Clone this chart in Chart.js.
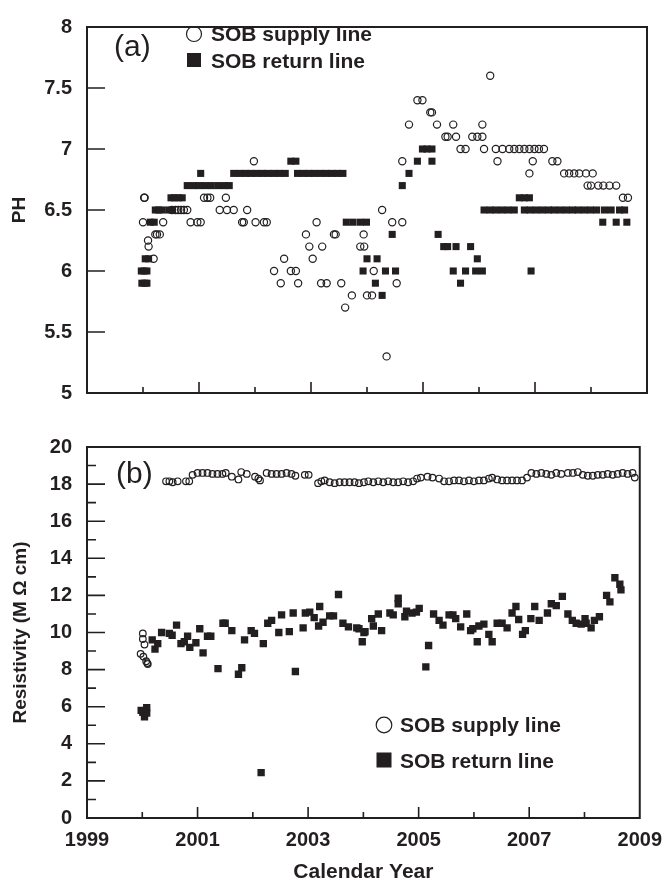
<!DOCTYPE html>
<html lang="en">
<head>
<meta charset="UTF-8" />
<title>SOB supply / return line - PH and resistivity</title>
<script src="https://cdn.jsdelivr.net/npm/chart.js"></script>
<style>
  html, body { margin: 0; background: #fff; overflow: hidden; }
  #top { position: absolute; left: 0; top: 0; width: 672px; height: 420px; }
  #bottom { position: absolute; left: 0; top: 420px; width: 672px; height: 463px; }
</style>
</head>
<body>
<div id="top"><canvas id="phChart"></canvas></div>
<div id="bottom"><canvas id="resChart"></canvas></div>
<script>
// [calendar year, value]
const phSupply = [
  [2000.0, 6.4], [2000.02, 6.6], [2000.03, 6.6], [2000.09, 6.25], [2000.1, 6.2], [2000.19, 6.1],
  [2000.22, 6.3], [2000.25, 6.3], [2000.3, 6.3], [2000.36, 6.4], [2000.52, 6.5], [2000.58, 6.5],
  [2000.63, 6.5], [2000.68, 6.5], [2000.73, 6.5], [2000.79, 6.5], [2000.85, 6.4], [2000.97, 6.4],
  [2001.03, 6.4], [2001.09, 6.6], [2001.15, 6.6], [2001.2, 6.6], [2001.48, 6.6], [2001.37, 6.5],
  [2001.5, 6.5], [2001.62, 6.5], [2001.77, 6.4], [2001.8, 6.4], [2001.86, 6.5], [2001.98, 6.9],
  [2002.01, 6.4], [2002.16, 6.4], [2002.21, 6.4], [2002.34, 6.0], [2002.46, 5.9], [2002.52, 6.1],
  [2002.64, 6.0], [2002.73, 6.0], [2002.77, 5.9], [2002.91, 6.3], [2002.97, 6.2], [2003.03, 6.1],
  [2003.1, 6.4], [2003.2, 6.2], [2003.18, 5.9], [2003.28, 5.9], [2003.41, 6.3], [2003.44, 6.3],
  [2003.54, 5.9], [2003.61, 5.7], [2003.73, 5.8], [2003.94, 6.3], [2003.88, 6.2], [2003.95, 6.2],
  [2004.0, 5.8], [2004.09, 5.8], [2004.12, 6.0], [2004.27, 6.5], [2004.35, 5.3], [2004.45, 6.4],
  [2004.63, 6.4], [2004.53, 5.9], [2004.63, 6.9], [2004.75, 7.2], [2004.9, 7.4], [2004.99, 7.4],
  [2005.13, 7.3], [2005.16, 7.3], [2005.25, 7.2], [2005.54, 7.2], [2005.4, 7.1], [2005.44, 7.1],
  [2005.59, 7.1], [2005.67, 7.0], [2005.76, 7.0], [2005.88, 7.1], [2005.97, 7.1], [2006.06, 7.1],
  [2006.06, 7.2], [2006.09, 7.0], [2006.2, 7.6], [2006.33, 6.9], [2006.3, 7.0], [2006.42, 7.0],
  [2006.54, 7.0], [2006.63, 7.0], [2006.72, 7.0], [2006.81, 7.0], [2006.9, 7.0], [2006.99, 7.0],
  [2007.07, 7.0], [2007.16, 7.0], [2006.96, 6.9], [2006.9, 6.8], [2007.31, 6.9], [2007.4, 6.9],
  [2007.52, 6.8], [2007.61, 6.8], [2007.7, 6.8], [2007.79, 6.8], [2007.91, 6.8], [2008.03, 6.8],
  [2007.94, 6.7], [2008.0, 6.7], [2008.13, 6.7], [2008.22, 6.7], [2008.33, 6.7], [2008.45, 6.7],
  [2008.57, 6.6], [2008.66, 6.6]
];
const phReturn = [
  [1999.97, 6.0], [2000.02, 6.0], [2000.07, 6.0], [1999.98, 5.9], [2000.03, 5.9], [2000.07, 5.9],
  [2000.04, 6.1], [2000.1, 6.1], [2000.13, 6.4], [2000.2, 6.4], [2000.22, 6.5], [2000.28, 6.5],
  [2000.34, 6.5], [2000.46, 6.5], [2000.52, 6.5], [2000.5, 6.6], [2000.56, 6.6], [2000.63, 6.6],
  [2000.7, 6.6], [2000.79, 6.7], [2000.9, 6.7], [2001.0, 6.7], [2001.11, 6.7], [2001.22, 6.7],
  [2001.34, 6.7], [2001.45, 6.7], [2001.54, 6.7], [2001.03, 6.8], [2001.62, 6.8], [2001.73, 6.8],
  [2001.83, 6.8], [2001.93, 6.8], [2002.03, 6.8], [2002.13, 6.8], [2002.23, 6.8], [2002.34, 6.8],
  [2002.44, 6.8], [2002.54, 6.8], [2002.64, 6.9], [2002.73, 6.9], [2002.76, 6.8], [2002.86, 6.8],
  [2002.96, 6.8], [2003.06, 6.8], [2003.17, 6.8], [2003.27, 6.8], [2003.37, 6.8], [2003.47, 6.8],
  [2003.57, 6.8], [2003.63, 6.4], [2003.75, 6.4], [2003.88, 6.4], [2003.99, 6.4], [2004.0, 6.1],
  [2004.18, 6.1], [2003.93, 6.0], [2004.33, 6.0], [2004.51, 6.0], [2004.15, 5.9], [2004.27, 5.8],
  [2004.45, 6.3], [2004.63, 6.7], [2004.75, 6.8], [2004.9, 6.9], [2004.99, 7.0], [2005.07, 7.0],
  [2005.16, 7.0], [2005.16, 6.9], [2005.27, 6.3], [2005.37, 6.2], [2005.44, 6.2], [2005.59, 6.2],
  [2005.54, 6.0], [2005.76, 6.0], [2005.94, 6.0], [2006.06, 6.0], [2005.67, 5.9], [2005.85, 6.2],
  [2005.97, 6.1], [2006.09, 6.5], [2006.2, 6.5], [2006.3, 6.5], [2006.41, 6.5], [2006.52, 6.5],
  [2006.63, 6.5], [2006.72, 6.6], [2006.81, 6.6], [2006.9, 6.6], [2006.81, 6.5], [2006.91, 6.5],
  [2007.02, 6.5], [2007.13, 6.5], [2007.24, 6.5], [2007.34, 6.5], [2007.45, 6.5], [2007.56, 6.5],
  [2007.67, 6.5], [2007.77, 6.5], [2007.88, 6.5], [2007.99, 6.5], [2008.1, 6.5], [2008.24, 6.5],
  [2008.36, 6.5], [2008.51, 6.5], [2008.6, 6.5], [2006.93, 6.0], [2008.21, 6.4], [2008.45, 6.4],
  [2008.64, 6.4]
];
const resSupply = [
  [1999.97, 8.85], [2000.01, 9.95], [2000.01, 9.65], [2000.04, 9.35], [2000.02, 8.7], [2000.07, 8.45],
  [2000.09, 8.35], [2000.1, 8.3],
  [2000.43, 18.15], [2000.49, 18.15], [2000.55, 18.1], [2000.64, 18.15], [2000.79, 18.15], [2000.85, 18.15],
  [2000.91, 18.5], [2001.0, 18.6], [2001.09, 18.6], [2001.18, 18.6], [2001.27, 18.55], [2001.36, 18.55],
  [2001.45, 18.55], [2001.51, 18.6], [2001.62, 18.4], [2001.74, 18.25], [2001.79, 18.65], [2001.89, 18.55],
  [2002.04, 18.4], [2002.1, 18.3], [2002.13, 18.2], [2002.25, 18.6], [2002.34, 18.55], [2002.43, 18.55],
  [2002.52, 18.55], [2002.61, 18.6], [2002.7, 18.55], [2002.77, 18.45], [2002.94, 18.5], [2003.01, 18.5],
  [2003.18, 18.05], [2003.24, 18.15], [2003.3, 18.2], [2003.39, 18.1], [2003.48, 18.05], [2003.57, 18.1],
  [2003.66, 18.1], [2003.75, 18.1], [2003.84, 18.1], [2003.92, 18.05], [2004.01, 18.1], [2004.09, 18.15],
  [2004.18, 18.1], [2004.27, 18.15], [2004.36, 18.1], [2004.45, 18.15], [2004.54, 18.1], [2004.63, 18.1],
  [2004.72, 18.15], [2004.81, 18.1], [2004.9, 18.15], [2004.97, 18.3], [2005.04, 18.35], [2005.16, 18.4],
  [2005.25, 18.35], [2005.37, 18.3], [2005.46, 18.15], [2005.55, 18.15], [2005.64, 18.2], [2005.73, 18.2],
  [2005.82, 18.15], [2005.91, 18.2], [2006.0, 18.15], [2006.09, 18.2], [2006.18, 18.2], [2006.27, 18.3],
  [2006.33, 18.35], [2006.42, 18.25], [2006.51, 18.2], [2006.6, 18.2], [2006.69, 18.2], [2006.78, 18.2],
  [2006.87, 18.2], [2006.96, 18.35], [2007.04, 18.6], [2007.13, 18.55], [2007.22, 18.6], [2007.31, 18.55],
  [2007.4, 18.5], [2007.49, 18.6], [2007.58, 18.55], [2007.7, 18.6], [2007.79, 18.6], [2007.88, 18.65],
  [2007.97, 18.5], [2008.06, 18.45], [2008.15, 18.45], [2008.24, 18.5], [2008.33, 18.5], [2008.42, 18.55],
  [2008.51, 18.5], [2008.6, 18.55], [2008.69, 18.6], [2008.78, 18.55], [2008.87, 18.6], [2008.91, 18.35]
];
const resReturn = [
  [1999.98, 5.8], [2000.04, 5.45], [2000.08, 5.95], [2000.08, 5.65], [2000.01, 5.7],
  [2000.18, 9.6], [2000.23, 9.1], [2000.28, 9.4], [2000.35, 10.0], [2000.49, 9.95], [2000.54, 9.85],
  [2000.62, 10.4], [2000.7, 9.4], [2000.76, 9.5], [2000.82, 9.8], [2000.86, 9.2], [2000.97, 9.45],
  [2001.04, 10.2], [2001.1, 8.9], [2001.18, 9.8], [2001.24, 9.8], [2001.37, 8.05], [2001.46, 10.5],
  [2001.5, 10.5], [2001.62, 10.1], [2001.74, 7.75], [2001.8, 8.1], [2001.85, 9.6], [2001.97, 10.1],
  [2002.03, 9.95], [2002.15, 2.45], [2002.19, 9.4], [2002.27, 10.5], [2002.34, 10.65], [2002.47, 10.0],
  [2002.52, 10.95], [2002.66, 10.05], [2002.73, 11.05], [2002.77, 7.9], [2002.91, 10.25], [2002.95, 11.05],
  [2003.03, 11.1], [2003.11, 10.8], [2003.19, 10.35], [2003.21, 11.4], [2003.27, 10.55], [2003.39, 10.9],
  [2003.46, 10.9], [2003.55, 12.05], [2003.63, 10.5], [2003.73, 10.3], [2003.88, 10.25], [2003.92, 10.2],
  [2003.98, 9.5], [2004.01, 10.0], [2004.03, 10.05], [2004.15, 10.75], [2004.18, 10.35], [2004.27, 11.0],
  [2004.33, 10.1], [2004.48, 11.05], [2004.54, 10.95], [2004.63, 11.85], [2004.63, 11.55], [2004.75, 10.85],
  [2004.78, 11.15], [2004.88, 11.05], [2004.96, 11.1], [2005.01, 11.3], [2005.13, 8.15], [2005.18, 9.3],
  [2005.27, 11.0], [2005.37, 10.65], [2005.44, 10.4], [2005.55, 10.95], [2005.62, 10.95], [2005.67, 10.75],
  [2005.76, 10.3], [2005.87, 11.0], [2005.94, 10.1], [2005.98, 10.2], [2006.06, 9.5], [2006.09, 10.35],
  [2006.18, 10.45], [2006.27, 9.9], [2006.33, 9.5], [2006.42, 10.5], [2006.51, 10.5], [2006.6, 10.25],
  [2006.69, 11.05], [2006.76, 11.4], [2006.81, 10.7], [2006.88, 9.9], [2006.93, 10.1], [2007.03, 10.75],
  [2007.1, 11.4], [2007.18, 10.65], [2007.33, 11.05], [2007.4, 11.55], [2007.49, 11.45], [2007.6, 11.95],
  [2007.7, 11.0], [2007.78, 10.65], [2007.85, 10.5], [2007.94, 10.45], [2008.03, 10.5], [2008.01, 10.75],
  [2008.12, 10.25], [2008.18, 10.65], [2008.27, 10.85], [2008.4, 12.0], [2008.46, 11.65], [2008.55, 12.95],
  [2008.64, 12.6], [2008.66, 12.3]
];
const seriesNames = ['SOB supply line', 'SOB return line'];
const yearTicks = [2000, 2001, 2002, 2003, 2004, 2005, 2006, 2007, 2008];
const phTicks = [5.5, 6, 6.5, 7, 7.5];
const resTicks = [1, 2, 3, 4, 5, 6, 7, 8, 9, 10, 11, 12, 13, 14, 15, 16, 17, 18, 19];

const ink = '#231f20';
const fam = '"Liberation Sans", Arial, Helvetica, sans-serif';
const toXY = arr => arr.map(([x, y]) => ({ x, y }));

// box, inward tick marks, panel letter and legend
const framePlugin = {
  id: 'frame',
  afterDraw(chart, args, o) {
    const { ctx, chartArea: a, scales: { x, y } } = chart;
    ctx.save();
    ctx.strokeStyle = ink;
    ctx.lineWidth = 1.6;
    ctx.beginPath();
    yearTicks.forEach(yr => {
      const px = x.getPixelForValue(yr);
      const len = yr % 2 ? 11 : 6;
      ctx.moveTo(px, a.bottom); ctx.lineTo(px, a.bottom - len);
    });
    o.yTicks.forEach(v => {
      const py = y.getPixelForValue(v);
      const len = o.minorEvery && Math.round(v) % 2 ? 9 : 18;
      ctx.moveTo(a.left, py); ctx.lineTo(a.left + len, py);
    });
    ctx.stroke();
    ctx.lineWidth = 2;
    ctx.strokeRect(a.left, a.top, a.right - a.left, a.bottom - a.top);

    ctx.fillStyle = ink;
    ctx.textBaseline = 'middle';
    ctx.font = '30px ' + fam;
    ctx.fillText(o.letter, o.letterX, o.letterY);

    const L = o.legend;
    ctx.lineWidth = 1.2;
    ctx.beginPath();
    ctx.arc(L.mx, L.y1, L.r, 0, Math.PI * 2);
    ctx.stroke();
    ctx.fillRect(L.mx - L.s / 2, L.y2 - L.s / 2, L.s, L.s);
    ctx.font = 'bold 21px ' + fam;
    ctx.fillText(seriesNames[0], L.tx, L.y1 + 1);
    ctx.fillText(seriesNames[1], L.tx, L.y2 + 2);
    ctx.restore();
  }
};

function makeChart(id, cfg) {
  return new Chart(document.getElementById(id), {
    type: 'scatter',
    data: {
      datasets: [
        { label: seriesNames[0], data: toXY(cfg.supply), pointStyle: 'circle', pointRadius: cfg.cr,
          borderColor: ink, backgroundColor: 'rgba(0,0,0,0)', borderWidth: 1.2 },
        { label: seriesNames[1], data: toXY(cfg.ret), pointStyle: 'rect', pointRadius: cfg.sr,
          borderColor: ink, backgroundColor: ink, borderWidth: 0 }
      ]
    },
    options: {
      responsive: true,
      maintainAspectRatio: false,
      animation: false,
      events: [],
      layout: { padding: cfg.padding },
      plugins: {
        legend: { display: false },
        tooltip: { enabled: false },
        frame: cfg.frame
      },
      scales: {
        x: {
          type: 'linear', min: 1999, max: 2009,
          grid: { display: false, drawTicks: false },
          border: { display: false },
          ticks: {
            display: cfg.xLabels, stepSize: 2, padding: 10, color: ink,
            font: { family: fam, size: 20, weight: 'bold' },
            callback: v => String(v)
          },
          title: {
            display: cfg.xLabels, text: 'Calendar Year', color: ink,
            font: { family: fam, size: 21, weight: 'bold' }, padding: { top: 0, bottom: -2 }
          },
          afterFit: s => { s.height = cfg.xHeight; }
        },
        y: {
          min: cfg.yMin, max: cfg.yMax,
          grid: { display: false, drawTicks: false },
          border: { display: false },
          ticks: {
            stepSize: cfg.yStep, padding: 15, color: ink,
            font: { family: fam, size: 20, weight: 'bold' },
            callback: v => String(+v.toFixed(1))
          },
          title: {
            display: true, text: cfg.yTitle, color: ink,
            font: { family: fam, size: 19, weight: 'bold' }, padding: { top: cfg.yTitlePad, bottom: 0 }
          },
          afterFit: s => { s.width = 87; }
        }
      }
    },
    plugins: [framePlugin]
  });
}

makeChart('phChart', {
  supply: phSupply, ret: phReturn, cr: 3.6, sr: 5,
  padding: { left: 0, right: 25, top: 16, bottom: 13 },
  xLabels: false, xHeight: 0,
  yMin: 5, yMax: 8, yStep: 0.5, yTitle: 'PH', yTitlePad: 8,
  frame: {
    yTicks: phTicks, minorEvery: false, letter: '(a)', letterX: 114, letterY: 48,
    legend: { mx: 194, r: 7.5, s: 14, tx: 211, y1: 34, y2: 60 }
  }
});

makeChart('resChart', {
  supply: resSupply, ret: resReturn, cr: 3.3, sr: 5.2,
  padding: { left: 0, right: 25, top: 20, bottom: 0 },
  xLabels: true, xHeight: 65,
  yMin: 0, yMax: 20, yStep: 2, yTitle: 'Resistivity (M \u03A9 cm)', yTitlePad: 9,
  frame: {
    yTicks: resTicks, minorEvery: true, letter: '(b)', letterX: 116, letterY: 55,
    legend: { mx: 384, r: 7.8, s: 15, tx: 400, y1: 305, y2: 340 }
  }
});
</script>
</body>
</html>
